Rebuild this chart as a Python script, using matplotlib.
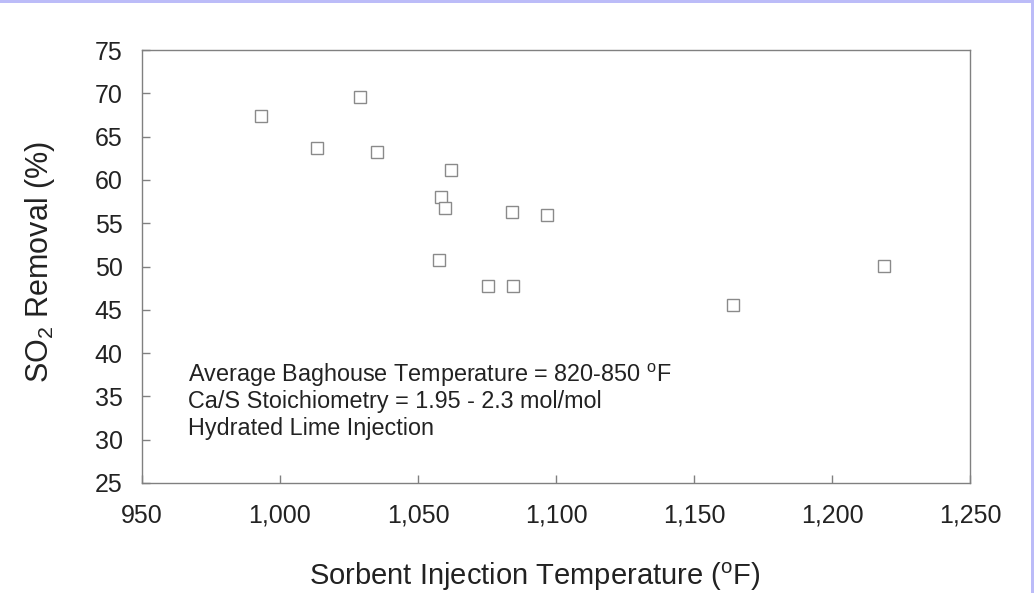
import matplotlib
matplotlib.use("Agg")
import matplotlib.pyplot as plt
from matplotlib.patches import Rectangle

plt.rcParams['font.family'] = ['Liberation Sans', 'DejaVu Sans']
plt.rcParams['mathtext.fontset'] = 'custom'
plt.rcParams['mathtext.rm'] = 'Liberation Sans'
plt.rcParams['mathtext.it'] = 'Liberation Sans:italic'

# Data
temperature_F = [993, 1013.4, 1029, 1035, 1062, 1058.3, 1059.8, 1083.9, 1096.6,
                 1057.6, 1075.5, 1084.5, 1164, 1219]
so2_removal = [67.4, 63.7, 69.6, 63.2, 61.1, 58.0, 56.8, 56.3, 55.9,
               50.7, 47.7, 47.7, 45.6, 50.1]

x_ticks = [950, 1000, 1050, 1100, 1150, 1200, 1250]
x_tick_labels = ['950', '1,000', '1,050', '1,100', '1,150', '1,200', '1,250']
y_ticks = [25, 30, 35, 40, 45, 50, 55, 60, 65, 70, 75]

annotation_lines = [
    r'Average Baghouse Temperature = 820-850 $^{\mathrm{o}}$F',
    'Ca/S Stoichiometry = 1.95 - 2.3 mol/mol',
    'Hydrated Lime Injection',
]
annotation_y = [36.66, 33.66, 30.54]

W, H = 1034, 593
fig = plt.figure(figsize=(W / 100, H / 100), dpi=100)
fig.patch.set_facecolor('white')

# lavender frame strips (top and right)
border = '#bcbcf8'
fig.patches.append(Rectangle((0, 1 - 3 / H), 1, 3 / H, transform=fig.transFigure,
                             facecolor=border, edgecolor='none', zorder=0))
fig.patches.append(Rectangle((1 - 3 / W, 0), 3 / W, 1, transform=fig.transFigure,
                             facecolor=border, edgecolor='none', zorder=0))

left, right = 142 / W, 970 / W
bottom, top = (H - 483) / H, (H - 50) / H
ax = fig.add_axes([left, bottom, right - left, top - bottom])

text_color = '#222222'
spine_color = '#808080'

ax.plot(temperature_F, so2_removal, linestyle='none', marker='s', markersize=9,
        markerfacecolor='white', markeredgecolor='#8a8a8a', markeredgewidth=1.0)

ax.set_xlim(950, 1250)
ax.set_ylim(25, 75)
ax.set_xticks(x_ticks)
ax.set_xticklabels(x_tick_labels)
ax.set_yticks(y_ticks)

for s in ax.spines.values():
    s.set_color(spine_color)
    s.set_linewidth(1.0)

ax.tick_params(axis='both', direction='in', length=6, width=1.0, color=spine_color,
               labelsize=18, labelcolor=text_color)
ax.tick_params(axis='x', pad=15)
ax.tick_params(axis='y', pad=14)

ax.set_xlabel(r'Sorbent Injection Temperature ($^{\mathrm{o}}$F)', fontsize=21,
              color=text_color)
ax.xaxis.label.set_va('baseline')
ax.xaxis.set_label_coords((535 - 142) / 828, (483 - 585) / 433)

ax.set_ylabel(r'SO$_{\mathrm{2}}$ Removal (%)', fontsize=22, color=text_color)
ax.yaxis.label.set_va('center')
ax.yaxis.set_label_coords((40 - 142) / 828, 0.51)

for line, yv in zip(annotation_lines, annotation_y):
    ax.text(966.5, yv, line, fontsize=16.8, color=text_color, va='baseline', ha='left')

fig.savefig('out.png', dpi=100)
